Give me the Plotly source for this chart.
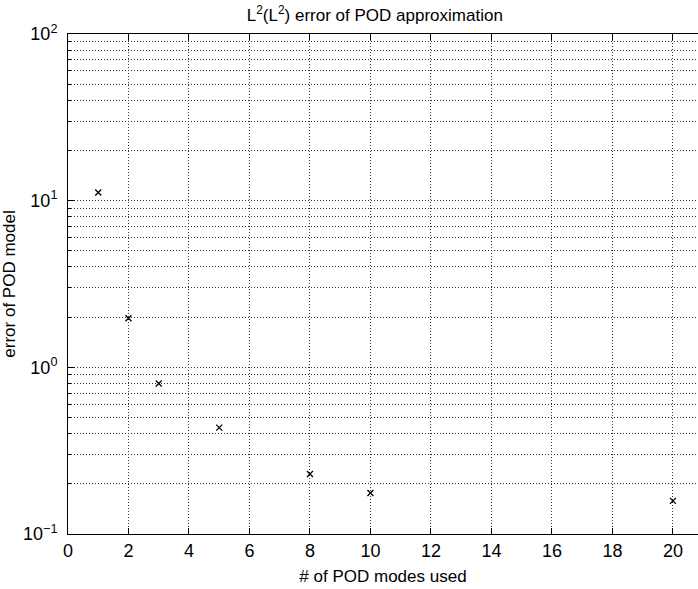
import plotly.graph_objects as go

# data
modes = [1, 2, 3, 5, 8, 10, 20]
errors = [11.2, 1.97, 0.80, 0.435, 0.229, 0.176, 0.158]

x_ticks = list(range(0, 21, 2))
decades = [0.1, 1, 10, 100]
decade_labels = ["10<sup>\u22121</sup>", "10<sup>0</sup>", "10<sup>1</sup>", "10<sup>2</sup>"]

minor_vals = [d * k for d in decades[:-1] for k in range(2, 10)]

font_family = "Liberation Sans, Arial, Helvetica, sans-serif"

fig = go.Figure()
fig.add_trace(go.Scatter(
    x=modes, y=errors, mode="markers",
    marker=dict(symbol="x-thin", size=6, color="black",
                line=dict(color="black", width=1.3)),
    showlegend=False,
))

grid_dash = "1px,2px"
grid_color = "#333333"

fig.update_layout(
    width=698, height=589,
    margin=dict(l=68, r=0, t=34, b=55),
    paper_bgcolor="white", plot_bgcolor="white",
    font=dict(family=font_family, size=17, color="black"),
    title=dict(text="L<sup>2</sup>(L<sup>2</sup>) error of POD approximation",
               x=0.537, xanchor="center", y=0.984, yanchor="top",
               font=dict(size=17)),
    xaxis=dict(
        range=[0, 20.83], tickvals=x_ticks,
        ticks="inside", ticklen=6, tickcolor="black",
        showline=True, linecolor="black", linewidth=1, mirror="ticks",
        showgrid=True, gridcolor=grid_color, griddash=grid_dash, gridwidth=1,
        zeroline=False, automargin=False,
        title=dict(text="# of POD modes used", standoff=10, font=dict(size=17)),
        tickfont=dict(size=18),
    ),
    yaxis=dict(
        type="log", range=[-1, 2],
        tickvals=decades, ticktext=decade_labels,
        ticks="inside", ticklen=6, tickcolor="black",
        showline=True, linecolor="black", linewidth=1, mirror=False,
        showgrid=True, gridcolor=grid_color, griddash=grid_dash, gridwidth=1,
        minor=dict(tickvals=minor_vals, ticks="inside", ticklen=3,
                   tickcolor="black", showgrid=True, gridcolor=grid_color,
                   griddash=grid_dash, gridwidth=1),
        zeroline=False, automargin=False,
        title=dict(text="error of POD model", standoff=4, font=dict(size=17)),
        tickfont=dict(size=18),
        ticklabelstandoff=6,
    ),
)

fig.write_html("out.html", config={"displayModeBar": False},
               post_script="document.body.style.margin='0';")
